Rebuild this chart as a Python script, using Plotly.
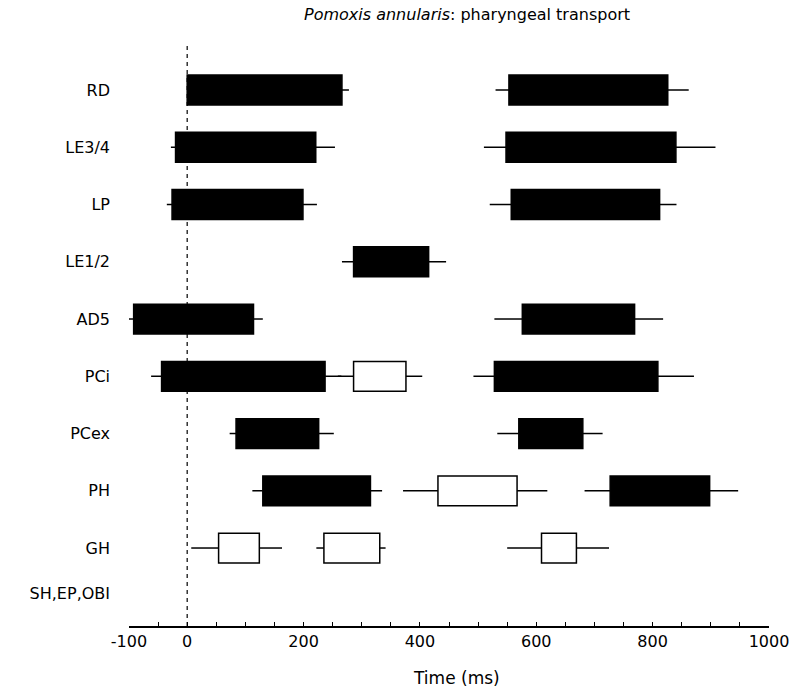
import plotly.graph_objects as go

# ---- data ----
rows = ["RD", "LE3/4", "LP", "LE1/2", "AD5", "PCi", "PCex", "PH", "GH", "SH,EP,OBI"]

seg_muscle = ["RD", "RD", "LE3/4", "LE3/4", "LP", "LP", "LE1/2", "AD5", "AD5",
              "PCi", "PCi", "PCi", "PCex", "PCex", "PH", "PH", "PH", "GH", "GH", "GH"]
whisk_lo = [0, 530, -28, 510, -35, 520, 266, -100, 528,
            -62, 259, 492, 73, 533, 112, 371, 683, 7, 222, 550]
bar_lo = [0, 553, -20, 548, -26, 557, 286, -92, 576,
          -44, 286, 528, 84, 570, 130, 431, 727, 54, 235, 609]
bar_hi = [266, 826, 221, 840, 199, 812, 415, 114, 769,
          237, 376, 809, 226, 680, 315, 567, 898, 124, 331, 669]
whisk_hi = [278, 862, 254, 908, 223, 841, 445, 130, 818,
            265, 404, 871, 252, 714, 335, 619, 947, 163, 341, 725]
filled = [1, 1, 1, 1, 1, 1, 1, 1, 1,
          1, 0, 1, 1, 1, 1, 0, 1, 0, 0, 0]

x_tick_vals = [-100, 0, 200, 400, 600, 800, 1000]
x_tick_text = ["-100", "0", "200", "400", "600", "800", "1000"]

title_text = "<i>Pomoxis annularis</i>: pharyngeal transport"
x_title = "Time (ms)"

# ---- build ----
FONT = "DejaVu Sans"
row_pos = {name: i for i, name in enumerate(rows[:-1])}
row_pos[rows[-1]] = 8.8

fig = go.Figure()

# whiskers
wx, wy = [], []
for m, a, b, c, d in zip(seg_muscle, whisk_lo, bar_lo, bar_hi, whisk_hi):
    r = row_pos[m]
    if a < b:
        wx += [a, b, None]
        wy += [r, r, None]
    if d > c:
        wx += [c, d, None]
        wy += [r, r, None]
fig.add_trace(go.Scatter(x=wx, y=wy, mode="lines",
                         line=dict(color="black", width=1.5),
                         hoverinfo="skip", showlegend=False))

for kind in (1, 0):
    ys, bases, lens = [], [], []
    for m, b, c, f in zip(seg_muscle, bar_lo, bar_hi, filled):
        if f == kind:
            ys.append(row_pos[m])
            bases.append(b)
            lens.append(c - b)
    fig.add_trace(go.Bar(
        y=ys, x=lens, base=bases, orientation="h", width=0.52,
        marker=dict(color="black" if kind else "white",
                    line=dict(color="black", width=1.5)),
        hoverinfo="skip", showlegend=False))

# dashed zero line
fig.add_shape(type="line", xref="x", yref="paper", x0=0, x1=0, y0=0, y1=1,
              line=dict(color="black", width=1.2, dash="4px,4px"), layer="below")

fig.add_annotation(text=title_text, xref="paper", yref="paper",
                   x=0.528, y=1.053, xanchor="center", yanchor="middle",
                   showarrow=False, font=dict(family=FONT, size=16, color="black"))
fig.add_annotation(text=x_title, xref="paper", yref="paper",
                   x=0.512, y=-0.0895, xanchor="center", yanchor="middle",
                   showarrow=False, font=dict(family=FONT, size=17, color="black"))

fig.update_layout(
    width=790, height=691,
    margin=dict(l=129, r=21, t=45, b=65, autoexpand=False),
    paper_bgcolor="white", plot_bgcolor="white",
    barmode="overlay", bargap=0,
    font=dict(family=FONT, size=16, color="black"),
    xaxis=dict(range=[-100, 1000], showgrid=False, zeroline=False,
               showline=True, linecolor="black", linewidth=1.5,
               tickmode="array", tickvals=x_tick_vals, ticktext=x_tick_text,
               ticks="inside", ticklen=4, tickwidth=1, tickcolor="black",
               minor=dict(tick0=0, dtick=50, ticks="inside", ticklen=4,
                          tickwidth=1, tickcolor="black"),
               tickfont=dict(family=FONT, size=16)),
    yaxis=dict(range=[9.362, -0.786], showgrid=False, zeroline=False,
               showline=False, ticks="",
               tickmode="array", tickvals=[row_pos[r] for r in rows], ticktext=rows,
               ticklabelstandoff=18,
               tickfont=dict(family=FONT, size=16)),
)

fig.write_html("out.html",
               config={"displayModeBar": False, "staticPlot": True},
               post_script="document.body.style.margin='0';"
                           "document.body.style.overflow='hidden';")
